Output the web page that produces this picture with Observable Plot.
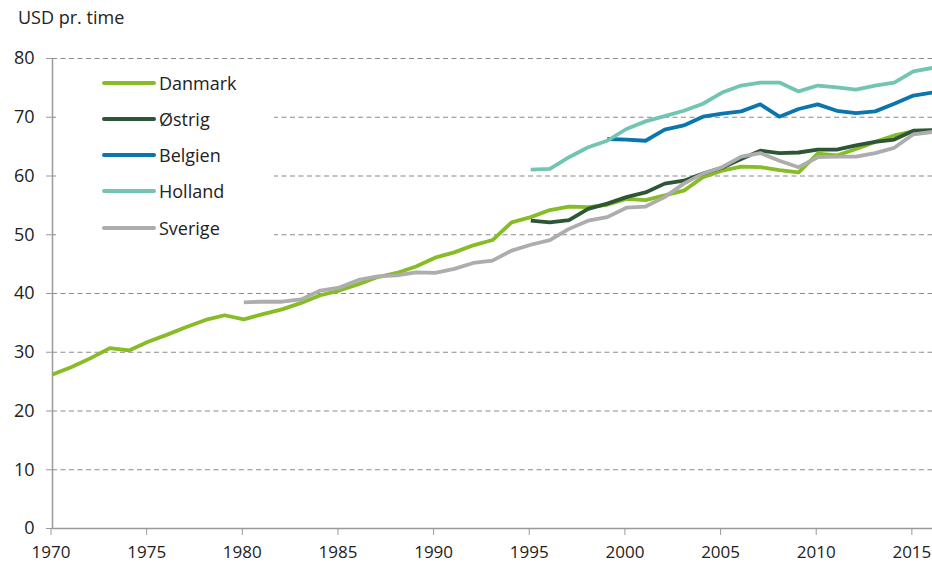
<!DOCTYPE html>
<html>
<head>
<meta charset="utf-8">
<script src="https://cdn.jsdelivr.net/npm/d3@7"></script>
<script src="https://cdn.jsdelivr.net/npm/@observablehq/plot@0.6"></script>
<style>
  html, body { margin: 0; padding: 0; background: #fff; }
  body { font-family: "Open Sans", sans-serif; }
  #wrap { position: relative; width: 932px; height: 565px; }
  #ytitle { position: absolute; left: 18px; top: 5px; font-size: 18px; color: #222; }
  #legend { position: absolute; left: 56px; top: 66px; width: 218px; height: 180px; background: #fff; }
  .row { position: absolute; left: 46px; height: 24px; display: flex; align-items: center; }
  .sw { width: 54px; height: 4px; border-radius: 2px; margin-right: 3px; }
  .lab { font-size: 18px; color: #222; }
</style>
</head>
<body>
<div id="wrap">
  <div id="chart"></div>
  <div id="ytitle">USD pr. time</div>
  <div id="legend"></div>
</div>
<script>
const years = [1970,1971,1972,1973,1974,1975,1976,1977,1978,1979,1980,1981,1982,1983,1984,1985,1986,1987,1988,1989,1990,1991,1992,1993,1994,1995,1996,1997,1998,1999,2000,2001,2002,2003,2004,2005,2006,2007,2008,2009,2010,2011,2012,2013,2014,2015,2016];

const seriesNames = ["Danmark", "Østrig", "Belgien", "Holland", "Sverige"];
const seriesColors = ["#86bc25", "#2c5636", "#0a76ab", "#72c4b3", "#adadad"];
const seriesStart = [1970, 1995, 1999, 1995, 1980];

const danmark = [26.2,27.5,29.0,30.7,30.3,31.8,33.0,34.3,35.5,36.3,35.6,36.5,37.3,38.4,39.7,40.5,41.6,42.8,43.5,44.6,46.1,47.0,48.2,49.1,52.1,53.0,54.2,54.8,54.7,55.1,56.1,55.9,56.7,57.5,59.8,60.9,61.6,61.5,61.0,60.6,63.8,63.5,64.6,65.8,66.9,67.6,67.6];
const oestrig = [52.4,52.1,52.5,54.4,55.3,56.4,57.2,58.7,59.2,60.4,61.4,62.9,64.3,63.9,64.0,64.5,64.5,65.2,65.8,66.2,67.7,67.8];
const belgien = [66.3,66.2,66.0,67.9,68.6,70.1,70.6,71.0,72.2,70.1,71.4,72.2,71.1,70.7,71.0,72.3,73.7,74.2];
const holland = [61.1,61.2,63.2,64.9,66.0,68.0,69.3,70.2,71.1,72.3,74.2,75.4,75.9,75.9,74.4,75.4,75.1,74.7,75.4,75.9,77.8,78.4];
const sverige = [38.5,38.6,38.6,39.0,40.5,41.0,42.3,42.9,43.1,43.6,43.5,44.2,45.2,45.6,47.3,48.3,49.1,51.0,52.4,53.0,54.6,54.8,56.4,58.7,60.4,61.5,63.3,63.9,62.6,61.5,63.2,63.3,63.3,63.9,64.8,67.1,67.5];

const yTicks = [0,10,20,30,40,50,60,70,80];
const xTicks = [1970,1975,1980,1985,1990,1995,2000,2005,2010,2015];

const seriesValues = [danmark, oestrig, belgien, holland, sverige];
const rows = [];
seriesNames.forEach((name, s) => {
  const start = years.indexOf(seriesStart[s]);
  seriesValues[s].forEach((v, i) => rows.push({series: name, year: years[start + i], value: v}));
});

const chart = Plot.plot({
  width: 932,
  height: 565,
  marginLeft: 52,
  marginRight: 0,
  marginTop: 58,
  marginBottom: 37,
  style: {fontFamily: "Open Sans, sans-serif", fontSize: "18px", color: "#222", background: "#fff"},
  x: {domain: [1970, 2016]},
  y: {domain: [0, 80]},
  color: {domain: seriesNames, range: seriesColors},
  marks: [
    Plot.ruleY(yTicks.filter(d => d > 0), {stroke: "#8a8a8a", strokeWidth: 1.2, strokeDasharray: "5,3.5"}),
    Plot.ruleY([0], {stroke: "#9a9a9a", strokeWidth: 1.5}),
    Plot.ruleX([1970], {stroke: "#9a9a9a", strokeWidth: 1.5}),
    Plot.axisY({ticks: yTicks, tickSize: 6, tickPadding: 12, stroke: "#9a9a9a", label: null, fill: "#222"}),
    Plot.axisX({ticks: xTicks, tickSize: 7, tickPadding: 10, stroke: "#9a9a9a", tickFormat: d => String(d), label: null, fill: "#222", fontSize: 17, dx: -1.5}),
    Plot.line(rows, {x: "year", y: "value", z: "series", stroke: "series", strokeWidth: 3.8, strokeLinejoin: "round", strokeLinecap: "butt"})
  ]
});
document.getElementById("chart").appendChild(chart);

const legend = document.getElementById("legend");
const rowTops = [5, 41, 77, 113, 150];
seriesNames.forEach((name, i) => {
  const r = document.createElement("div");
  r.className = "row";
  r.style.top = rowTops[i] + "px";
  r.innerHTML = `<div class="sw" style="background:${seriesColors[i]}"></div><div class="lab">${name}</div>`;
  legend.appendChild(r);
});
</script>
</body>
</html>
